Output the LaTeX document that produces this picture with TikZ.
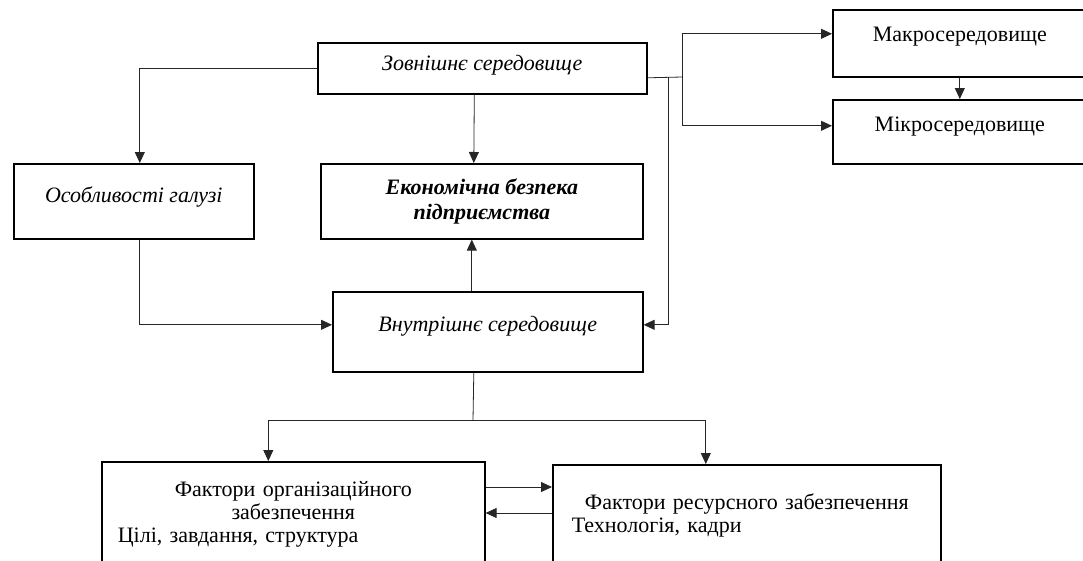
\documentclass[tikz,border=0pt]{standalone}
\usepackage{fontspec}
\setmainfont{Liberation Serif}
\usetikzlibrary{positioning, arrows.meta}

\begin{document}
\begin{tikzpicture}[x=1pt, y=-1pt,
  box/.style={rectangle, draw, line width=1.6pt, inner ysep=0pt, anchor=north west},
  flow/.style={line width=0.8pt, draw=black!85},
  arr/.style={flow, -{Triangle[length=11pt,width=10pt]}}]

\useasboundingbox (0,0) rectangle (1083,560);
\clip (0,0) rectangle (1083,560);

\node[box, minimum width=329pt, text height=28pt, text depth=23pt, font=\fontsize{22}{24}\selectfont\itshape] (zov) at (317,42) {Зовнішнє середовище};
\node[box, minimum width=240pt, text height=39pt, text depth=36pt, font=\fontsize{22}{24}\selectfont\itshape] (osob) at (13,163) {Особливості галузі};
\node[box, minimum width=322pt, minimum height=75pt, align=center, font=\fontsize{22}{25}\selectfont\bfseries\itshape] (ekon) at (320,163) {Економічна безпека\\підприємства};
\node[box, minimum width=310pt, text height=40pt, text depth=40pt, font=\fontsize{22}{24}\selectfont\itshape] (vnut) at (332,291) {Внутрішнє середовище};
\node[box, minimum width=254pt, text height=32pt, text depth=35pt, font=\fontsize{22}{24}\selectfont] (makro) at (832,9) {Макросередовище};
\node[box, minimum width=254pt, text height=32pt, text depth=32pt, font=\fontsize{22}{24}\selectfont] (mikro) at (832,99) {Мікросередовище};
\node[box, text width=351pt, inner xsep=16pt, inner ysep=20pt, align=left, font=\fontsize{22}{23}\selectfont] (org) at (101,461)
  {{\centering Фактори організаційного\\ забезпечення\par}\noindent Цілі, завдання, структура};
\node[box, text width=350pt, inner xsep=19pt, inner ysep=29pt, align=left, font=\fontsize{22}{23}\selectfont] (res) at (552,464)
  {{\centering Фактори ресурсного забезпечення\par}\noindent Технологія, кадри};

% outer environment
\coordinate (fork) at (682,77);
\coordinate (drop) at (668,77);
\draw[arr] (zov.west) -| ([xshift=6pt]osob.north);
\draw[arr] ([xshift=-8pt]zov.south) -- ([xshift=-8pt]ekon.north);
\draw[flow] ([yshift=-9.5pt]zov.east) -- (fork);
\draw[arr] (fork) |- ([yshift=9.5pt]makro.west);
\draw[arr] (fork) |- ([yshift=6pt]mikro.west);
\draw[arr] (makro.south) -- (mikro.north);
\draw[arr] (drop) |- ([yshift=7pt]vnut.east);

% inner environment
\draw[arr] ([xshift=6pt]osob.south) |- ([yshift=7pt]vnut.west);
\draw[arr] ([xshift=-16pt]vnut.north) -- ([xshift=-10pt]ekon.south);
\coordinate (split) at (473,420);
\draw[flow] ([xshift=-14pt]vnut.south) -- (split);
\draw[arr] (split) -| ([xshift=-25pt]org.north);
\draw[arr] (split) -| ([xshift=-41pt]res.north);
\draw[arr] ([yshift=-26pt]org.north east) -- ([yshift=-23pt]res.north west);
\draw[arr] ([yshift=-49pt]res.north west) -- ([yshift=-52pt]org.north east);

\end{tikzpicture}
\end{document}
